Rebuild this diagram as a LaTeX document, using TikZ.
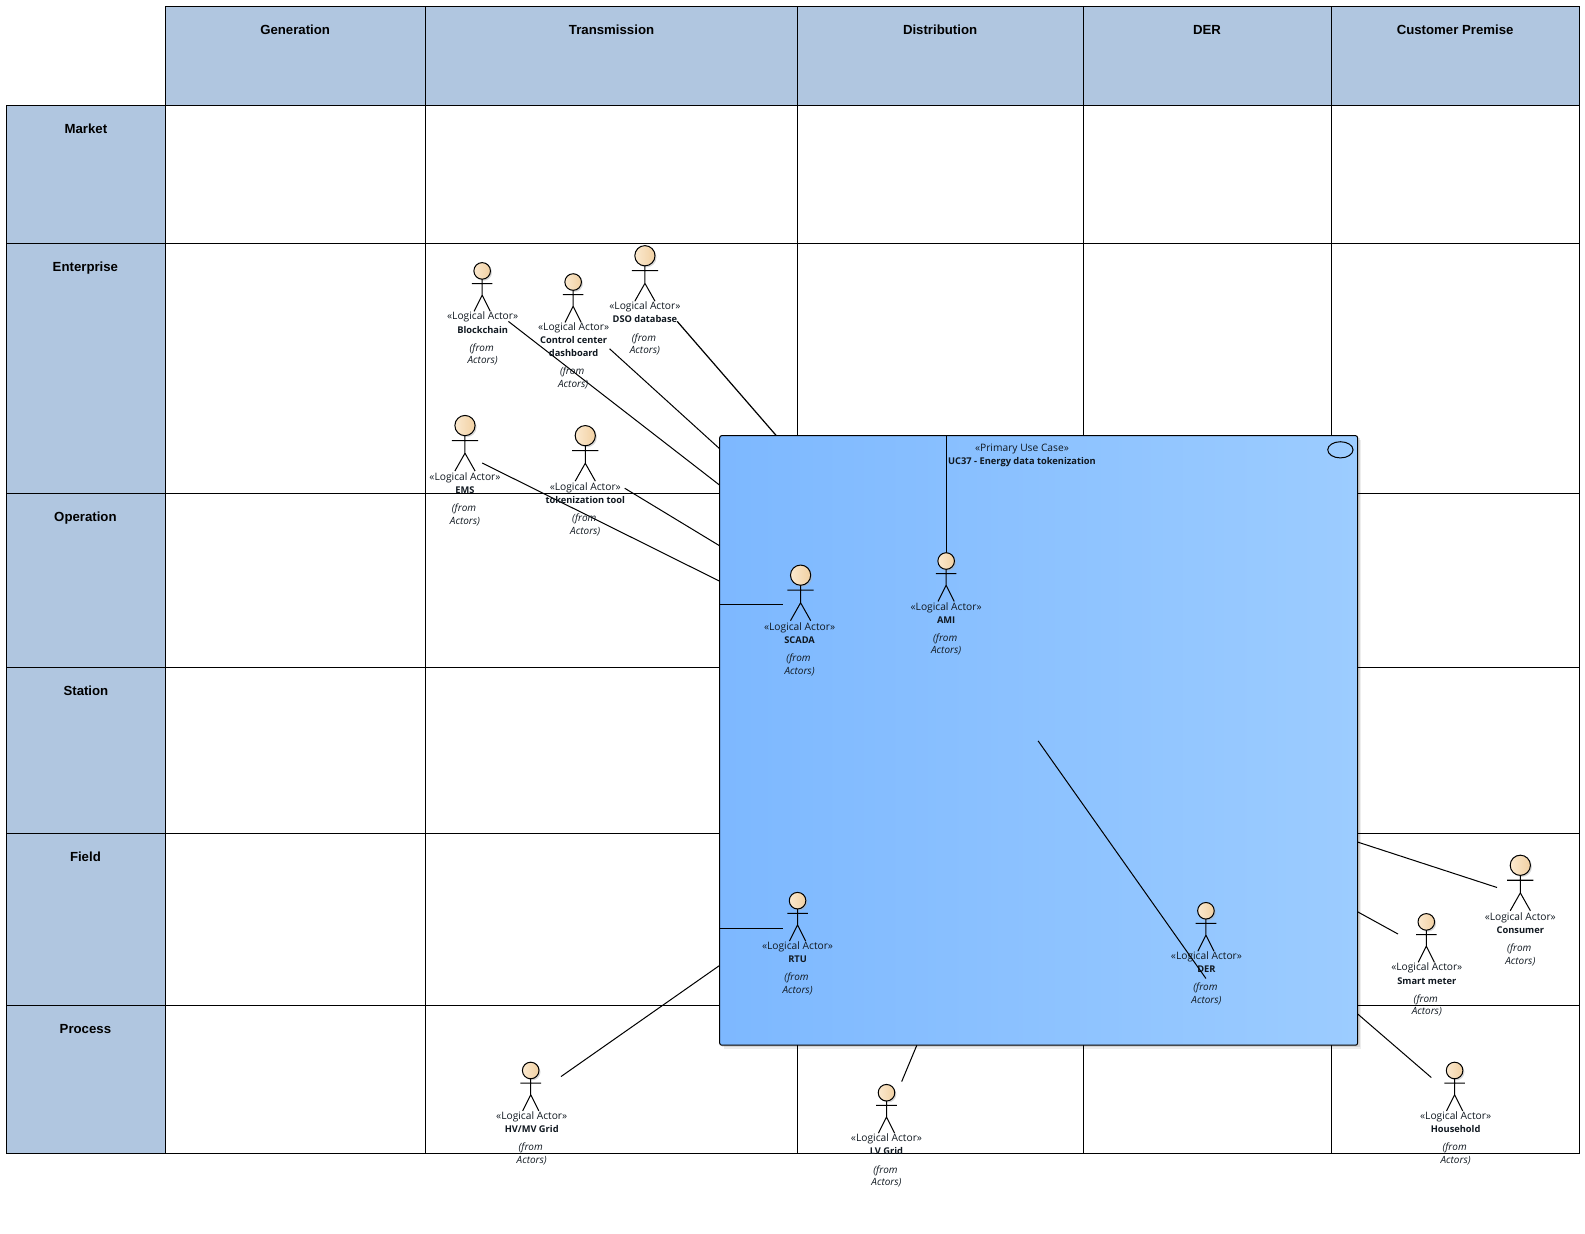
\documentclass[tikz,border=0pt]{standalone}
\usepackage{fontspec}
\setmainfont{Liberation Sans}
\newfontfamily\actorfont{Open Sans}
\definecolor{laneblue}{HTML}{B0C6E0}
\definecolor{boxleft}{HTML}{7DB8FF}
\definecolor{boxright}{HTML}{9CCCFF}
\definecolor{headlight}{HTML}{FBE9CF}
\definecolor{headdark}{HTML}{F1D0A2}
\definecolor{inktext}{HTML}{101820}
\tikzset{
  lane/.style={draw=black,line width=0.75pt,fill=laneblue},
  cell/.style={draw=black,line width=0.75pt,fill=white},
  lanelabel/.style={font=\fontsize{9.8}{12}\selectfont\bfseries,anchor=base,inner sep=0pt,yshift=-3.75pt},
  link/.style={draw=black,line width=0.75pt},
  limb/.style={draw=black,line width=0.75pt},
  actortext/.style={font=\actorfont\fontsize{7.6}{9}\selectfont,text=inktext,anchor=base,inner sep=0pt,yshift=-2.6pt},
  actorname/.style={actortext,font=\actorfont\fontsize{6.9}{9}\selectfont\bfseries},
  actorfrom/.style={actortext,font=\actorfont\fontsize{7.4}{9}\selectfont\itshape},
}
% #1 id, #2 x, #3 y head centre, #4 r, #5 arm dy, #6 arm half, #7 hip dy, #8 foot dy, #9 foot half
\newcommand{\actorbody}[9]{%
  \fill[black!30,opacity=.5] (#2+1.5,#3+1.5) circle [radius=#4];
  \shade[left color=headlight,right color=headdark,draw=black,line width=0.75pt] (#2,#3) circle [radius=#4];
  \draw[limb] (#2,#3+#4) -- (#2,#3+#7) (#2-#6,#3+#5) -- (#2+#6,#3+#5)
    (#2-#9,#3+#8) -- (#2,#3+#7) -- (#2+#9,#3+#8);
  \coordinate (#1) at (#2,#3);
}
\newcommand{\bigactor}[3]{\actorbody{#1}{#2}{#3}{10}{14.8}{13}{27.3}{45}{10}}
\newcommand{\smallactor}[3]{\actorbody{#1}{#2}{#3}{8.2}{12.5}{10.2}{24}{40}{8}}
% #1 id #2 x #3 y of stereotype #4 name
\newcommand{\actorlabel}[4]{%
  \node[actortext] (#1s) at (#2,#3) {«Logical Actor»};
  \node[actorname] (#1n) at (#2,#3+13) {#4};
  \node[actorfrom] (#1f) at (#2-1,#3+31) {(from};
  \node[actorfrom] (#1a) at (#2,#3+43.5) {Actors)};
}
\begin{document}
\begin{tikzpicture}[x=0.75pt,y=-0.75pt]
\useasboundingbox (0,0) rectangle (1568,1219.8);
% header lanes
\foreach \a/\b in {163.5/421,421/788.5,788.5/1072,1072/1317,1317/1562.5}
  \draw[lane] (\a,6.5) rectangle (\b,104);
\foreach \a/\b in {104/241,241/488,488/660,660/824.5,824.5/994.5,994.5/1141}{
  \draw[lane] (6,\a) rectangle (163.5,\b);
  \foreach \c/\d in {163.5/421,421/788.5,788.5/1072,1072/1317,1317/1562.5}
    \draw[cell] (\c,\a) rectangle (\d,\b);
}
\node[lanelabel] (hgen) at (292,29) {Generation};
\node[lanelabel] (htra) at (605,29) {Transmission};
\node[lanelabel] (hdis) at (930,29) {Distribution};
\node[lanelabel] (hder) at (1194,29) {DER};
\node[lanelabel] (hcus) at (1439.5,29) {Customer Premise};
\node[lanelabel] (rmar) at (85,127) {Market};
\node[lanelabel] (rent) at (84.5,264) {Enterprise};
\node[lanelabel] (rope) at (84.5,511) {Operation};
\node[lanelabel] (rsta) at (85,683) {Station};
\node[lanelabel] (rfie) at (84.5,847) {Field};
\node[lanelabel] (rpro) at (84.5,1017.5) {Process};
% free ends of connectors
\coordinate (eBlock) at (503,318); \coordinate (bBlock) at (712,480);
\coordinate (eCtrl) at (603,345);  \coordinate (bCtrl) at (712,444);
\coordinate (eDso) at (670,318);   \coordinate (bDso) at (768,431);
\coordinate (eEms) at (477,458);   \coordinate (bEms) at (712,575);
\coordinate (eTok) at (618,483);   \coordinate (bTok) at (712,540);
\coordinate (eHv) at (555,1065);   \coordinate (bHv) at (712,955);
\coordinate (eLv) at (892,1070);   \coordinate (bLv) at (907,1034);
\coordinate (eCon) at (1481,878);  \coordinate (bCon) at (1343,833);
\coordinate (eSm) at (1383,924);   \coordinate (bSm) at (1343,902);
\coordinate (eHou) at (1416,1066); \coordinate (bHou) at (1343,1003);
\coordinate (bScada) at (712,598); \coordinate (eScada) at (775,598);
\coordinate (bRtu) at (712,918.5); \coordinate (eRtu) at (775,918.5);
\coordinate (bAmi) at (936.5,431); \coordinate (eAmi) at (936.5,547);
\coordinate (bDer) at (1027,733);  \coordinate (eDer) at (1193,968);
% soft shadow of the use-case box
\fill[black,opacity=.07] (716,435) rectangle (1346.5,1037.5);
\fill[black,opacity=.1] (714,433) rectangle (1345,1036);
% outer connectors
\draw[link] (eBlock) -- (bBlock);
\draw[link] (eCtrl) -- (bCtrl);
\draw[link,line width=0.9pt] (eDso) -- (bDso);
\draw[link] (eEms) -- (bEms);
\draw[link] (eTok) -- (bTok);
\draw[link] (eHv) -- (bHv);
\draw[link] (eLv) -- (bLv);
\draw[link] (eCon) -- (bCon);
\draw[link] (eSm) -- (bSm);
\draw[link] (eHou) -- (bHou);
% use case box
\shade[left color=boxleft,right color=boxright,draw=black,line width=0.75pt,rounded corners=1.5pt] (712,431) rectangle (1343,1034);
\draw[black,line width=0.75pt] (1326,445) ellipse [x radius=12.5,y radius=8];
\node[actortext] (ucs) at (1011,443) {«Primary Use Case»};
\node[actorname] (ucn) at (1011,456) {UC37 - Energy data tokenization};
\draw[link] (bScada) -- (eScada);
\draw[link] (bRtu) -- (eRtu);
\draw[link] (bAmi) -- (eAmi);
% actors
\smallactor{aBlock}{477}{268}\actorlabel{lBlock}{477.5}{313}{Blockchain}
\smallactor{aCtrl}{567}{279}
\node[actortext] (lCtrls) at (567.5,323) {«Logical Actor»};
\node[actorname] (lCtrln) at (567.5,336) {Control center};
\node[actorname] (lCtrlm) at (567.5,349) {dashboard};
\node[actorfrom] (lCtrlf) at (566,367) {(from};
\node[actorfrom] (lCtrla) at (567,379.5) {Actors)};
\bigactor{aDso}{638}{253}\actorlabel{lDso}{638}{303}{DSO database}
\bigactor{aEms}{460}{421}\actorlabel{lEms}{460}{471.5}{EMS}
\bigactor{aTok}{579}{431}\actorlabel{lTok}{579}{481.5}{tokenization tool}
\bigactor{aScada}{792}{569}\actorlabel{lScada}{791}{620}{SCADA}
\smallactor{aAmi}{936}{555}\actorlabel{lAmi}{936}{600}{AMI}
\smallactor{aRtu}{789}{891}\actorlabel{lRtu}{789}{936}{RTU}
\smallactor{aDer}{1193}{901}\actorlabel{lDer}{1193.5}{945.5}{DER}
\bigactor{aCon}{1504}{856}\actorlabel{lCon}{1504}{907}{Consumer}
\smallactor{aSm}{1411}{912}\actorlabel{lSm}{1411.5}{957}{Smart meter}
\smallactor{aHou}{1439}{1059}\actorlabel{lHou}{1440}{1104}{Household}
\smallactor{aHv}{525}{1059}\actorlabel{lHv}{526}{1104}{HV/MV Grid}
\smallactor{aLv}{877}{1081}\actorlabel{lLv}{877}{1126}{LV Grid}
\draw[link] (bDer) -- (eDer);
\end{tikzpicture}
\end{document}
